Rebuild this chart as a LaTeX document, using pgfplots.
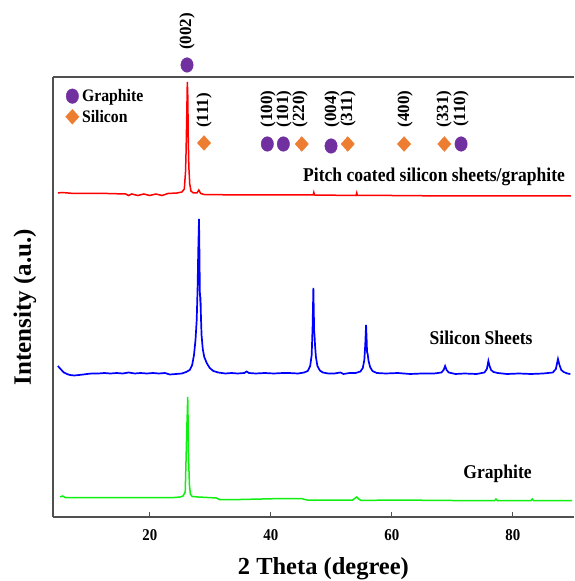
\documentclass[border=0pt]{standalone}
\usepackage{fontspec}
\setmainfont{Liberation Serif}
\newfontfamily\narrowserif{Liberation Serif}[FakeStretch=0.9]
\usepackage{pgfplots}
\pgfplotsset{compat=1.18}

\definecolor{graphitepurple}{HTML}{7030A0}
\definecolor{siliconorange}{HTML}{ED7D31}
\definecolor{axisgray}{HTML}{505050}
\definecolor{xrdgreen}{HTML}{11EE11}

\begin{document}
\begin{tikzpicture}
\useasboundingbox (-53pt,-64pt) rectangle (521pt,517pt); % page = 574 x 581
\begin{axis}[
    scale only axis,
    width=521pt, height=440pt,
    xmin=4, xmax=90.1, ymin=0, ymax=440,
    axis x line=box, axis y line=left,
    axis line style={-, draw=axisgray, line width=1.2pt},
    xtick={20,40,60,80}, ytick=\empty,
    xtick pos=left, tick align=inside, major tick length=5pt,
    tick style={axisgray, line width=1pt},
    /pgf/number format/assume math mode=true,
    xticklabel style={font=\narrowserif\bfseries\fontsize{16.5}{16.5}\selectfont, yshift=-9pt},
    xlabel={2 Theta (degree)},
    xlabel style={font=\bfseries\fontsize{24.5}{24.5}\selectfont,
        at={(axis description cs:0.519,-0.118)}, anchor=center},
    ylabel={Intensity (a.u.)},
    ylabel style={font=\bfseries\fontsize{25}{25}\selectfont,
        at={(axis description cs:-0.0537,0.477)}, anchor=center},
    clip=false,
    legend style={draw=none, fill=none, font=\narrowserif\bfseries\fontsize{17.5}{19}\selectfont,
        at={(axis description cs:0.024,0.977)}, anchor=north west,
        inner sep=0pt, row sep=3pt, column sep=1pt},
    legend cell align=left,
    legend image code/.code={\draw[#1] plot coordinates {(0pt,0pt)};},
  ]

% pitch coated silicon sheets/graphite (offset trace)
\addplot[red, line width=1.5pt, forget plot] coordinates {
(4.8,324) (5.5,324.5) (6.5,324) (7.5,323.5) (10,323.5) (13,323.5) (16,323)
(16.5,321.5) (17,323) (18,321.5) (19,323) (20,321.5) (21,323) (22,321.5)
(23,323.5) (24.5,324) (25.3,325) (25.7,328) (25.9,345) (26.0,367) (26.1,400)
(26.2,435) (26.28,420) (26.35,380) (26.45,350) (26.6,333) (26.8,326) (27.2,324)
(27.8,324) (28.1,327) (28.4,323.5) (29,322.5) (35,322) (40,322) (47,322)
(47.1,324.5) (47.2,322) (54.1,321.5) (54.2,324) (54.3,321.5) (60,321.5)
(70,321) (80,321) (89.6,321)
};

% silicon sheets
\addplot[blue, line width=1.7pt, forget plot] coordinates {
(4.8,151) (5.1,149) (5.4,147) (5.8,144.5) (6.3,143) (6.8,142) (7.5,141.5)
(8.3,142) (9.0,142.5) (9.6,143) (10.4,143.5) (11.5,143.5) (12.5,144) (13.5,143.5)
(14.5,144) (15.5,143.5) (16.5,144.5) (17.5,143.5) (18.5,144) (19.5,143.5)
(20.5,144) (21.5,143.5) (22.5,144) (23.3,142.5) (24.3,143) (25.3,143.5)
(26.0,145) (26.6,147) (27.0,152) (27.3,162) (27.55,177) (27.75,197) (27.9,230)
(28.0,265) (28.13,298) (28.2,265) (28.27,225) (28.33,218) (28.38,220) (28.45,200)
(28.55,182) (28.75,168) (29.0,160) (29.4,154) (29.9,149) (30.5,146) (31.3,144.5)
(32.5,143.5) (33.5,144) (34.5,143.5) (35.6,144) (36.0,145.5) (36.4,144)
(37.5,143.5) (39,144) (40.5,143.5) (42,144) (43,144) (44.5,143.5) (45.5,144.5)
(46.1,146) (46.5,151) (46.75,162) (46.9,190) (47.03,229) (47.1,205) (47.16,185)
(47.22,182) (47.3,172) (47.45,160) (47.7,151) (48.1,146.5) (48.6,144.5)
(49.5,143.5) (50.5,143.5) (51.5,144.5) (52.0,143) (53,144) (54,144) (54.8,145.5)
(55.2,149) (55.45,157) (55.6,172) (55.74,192) (55.83,178) (55.9,165) (56.0,163)
(56.15,156) (56.4,150) (56.8,146) (57.5,144) (59,143.5) (61,144) (63,143)
(65,143.5) (67,143.5) (68.2,144.5) (68.55,147) (68.8,151) (69.05,147) (69.4,144.5)
(70.5,143) (72,143.5) (74,143) (75.3,144.5) (75.7,148) (75.95,156) (76.15,151)
(76.4,147) (76.8,145) (77.5,144) (79,143) (81,143.5) (83,143) (85,143.5)
(86.6,144.5) (87.1,148) (87.45,158) (87.7,152) (88.0,147) (88.4,145) (89.0,143.5)
(89.5,143)
};

% graphite
\addplot[xrdgreen, line width=1.5pt, forget plot] coordinates {
(5.2,20) (5.6,21) (6,19.5) (10,19.5) (20,19.5) (24,19.5) (25,20) (25.5,21)
(25.85,25) (26.0,60) (26.12,90) (26.2,105) (26.26,120) (26.33,95) (26.4,60)
(26.55,32) (26.7,23) (27.0,20.5) (28,20) (31,19) (31.5,17.5) (35,17.5)
(42,18.5) (45,18.5) (46,17) (53.5,17) (54.2,20) (54.6,17.5) (55,16.5) (60,17)
(70,16.5) (77,16.5) (77.2,18) (77.4,16.5) (83,16.5) (83.2,18) (83.4,16.5)
(89.8,16.5)
};

% peak markers
\addplot[only marks, mark=*, mark size=7.3pt, color=graphitepurple,
         mark options={xscale=0.85}] coordinates {
(26.15,452) (39.42,373) (42.07,373) (49.95,371) (71.44,373)
};
\addlegendentry{Graphite}
\addplot[only marks, mark=diamond*, mark size=7.4pt, color=siliconorange,
         mark options={xscale=1.2}] coordinates {
(28.96,374) (45.11,373) (52.71,373) (62.02,373) (68.68,373)
};
\addlegendentry{Silicon}

% Miller indices
\begin{scope}[every node/.style={rotate=90, font=\bfseries\fontsize{17}{17}\selectfont}]
\node at (axis cs:26.15,485.5) {(002)};
\node at (axis cs:28.96,406.5) {(111)};
\node at (axis cs:39.54,408) {(100)};
\node at (axis cs:42.18,408) {(101)};
\node at (axis cs:44.83,408) {(220)};
\node at (axis cs:50.12,408) {(004)};
\node at (axis cs:52.76,408) {(311)};
\node at (axis cs:62.18,408) {(400)};
\node at (axis cs:68.63,408) {(331)};
\node at (axis cs:71.44,408) {(110)};
\end{scope}

% trace labels
\begin{scope}[every node/.style={font=\narrowserif\bfseries\fontsize{19.5}{20}\selectfont}]
\node at (axis cs:66.98,340) {Pitch coated silicon sheets/graphite};
\node at (axis cs:74.74,179) {Silicon Sheets};
\node at (axis cs:77.47,43) {Graphite};
\end{scope}
\end{axis}
\end{tikzpicture}
\end{document}
